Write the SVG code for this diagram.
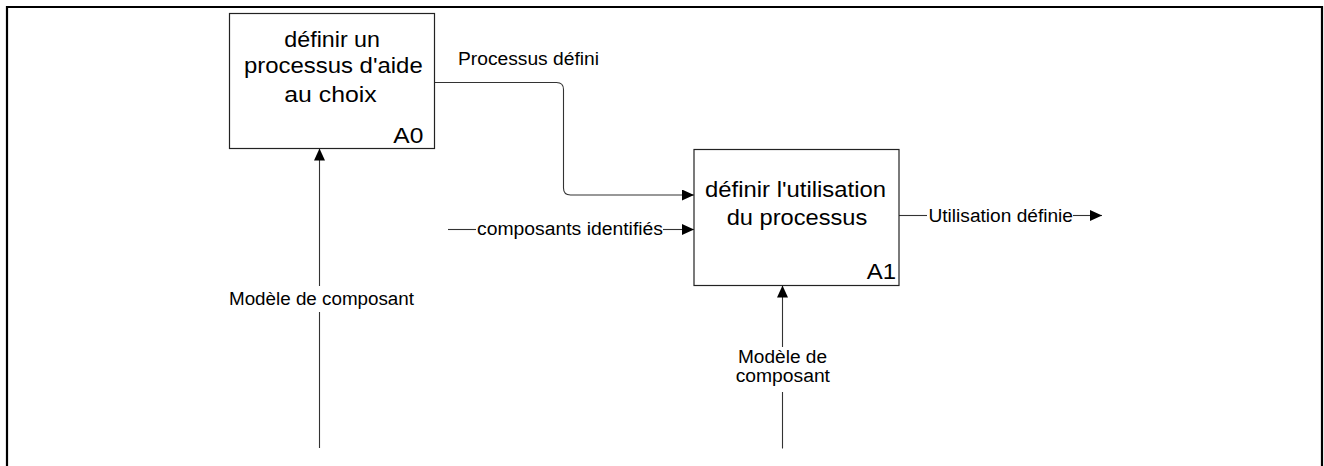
<svg xmlns="http://www.w3.org/2000/svg" width="1324" height="466" viewBox="0 0 1324 466">
<style>
.frame{fill:none;stroke:#000;stroke-width:2.2}
.box{fill:#fff;stroke:#222;stroke-width:1.2}
.conn{fill:none;stroke:#333;stroke-width:1.1}
.bt{font-family:"Liberation Sans",Arial,sans-serif;font-size:22.5px;fill:#000}
.lt{font-family:"Liberation Sans",Arial,sans-serif;font-size:18px;fill:#000}
</style>
<defs>
<marker id="arr" markerUnits="userSpaceOnUse" markerWidth="13" markerHeight="12" refX="12" refY="5.5" orient="auto">
<path d="M0,0 L12,5.5 L0,11 z" fill="#000"/>
</marker>
</defs>
<rect width="1324" height="466" fill="#fff"/>
<path class="frame" d="M7,466 V7 H1322 V466"/>
<g id="connectors">
<path class="conn" d="M434.5,82.5 H556.5 Q563.5,82.5 563.5,89.5 V188 Q563.5,195 570.5,195 H694" marker-end="url(#arr)"/>
<text class="lt" x="458" y="64.5" textLength="141" lengthAdjust="spacingAndGlyphs">Processus défini</text>
<path class="conn" d="M448,229.5 H476"/>
<path class="conn" d="M663,229.5 H694" marker-end="url(#arr)"/>
<text class="lt" x="477" y="235" textLength="186" lengthAdjust="spacingAndGlyphs">composants identifiés</text>
<path class="conn" d="M899,215.5 H927"/>
<path class="conn" d="M1073,215.5 H1102" marker-end="url(#arr)"/>
<text class="lt" x="928.5" y="221.5" textLength="144.5" lengthAdjust="spacingAndGlyphs">Utilisation définie</text>
<path class="conn" d="M319.5,448 V312"/>
<path class="conn" d="M319.5,286 V148.5" marker-end="url(#arr)"/>
<text class="lt" x="229" y="305" textLength="185" lengthAdjust="spacingAndGlyphs">Modèle de composant</text>
<path class="conn" d="M782.5,448.5 V392"/>
<path class="conn" d="M782.5,347 V285.5" marker-end="url(#arr)"/>
<text class="lt" x="738" y="363.3" textLength="89" lengthAdjust="spacingAndGlyphs">Modèle de</text>
<text class="lt" x="735.7" y="381.7" textLength="94.3" lengthAdjust="spacingAndGlyphs">composant</text>
</g>
<g id="A0">
<rect class="box" x="229.5" y="13.5" width="205" height="135"/>
<text class="bt" x="284.3" y="46.7" textLength="95.7" lengthAdjust="spacingAndGlyphs">définir un</text>
<text class="bt" x="244" y="73.3" textLength="178.7" lengthAdjust="spacingAndGlyphs">processus d'aide</text>
<text class="bt" x="284.3" y="101.7" textLength="92.4" lengthAdjust="spacingAndGlyphs">au choix</text>
<text class="bt" x="393.3" y="142.7" textLength="30" lengthAdjust="spacingAndGlyphs">A0</text>
</g>
<g id="A1">
<rect class="box" x="694" y="149.5" width="205" height="136"/>
<text class="bt" x="705" y="197.3" textLength="181" lengthAdjust="spacingAndGlyphs">définir l'utilisation</text>
<text class="bt" x="726.7" y="225" textLength="140.6" lengthAdjust="spacingAndGlyphs">du processus</text>
<text class="bt" x="866.7" y="279.3" textLength="29.3" lengthAdjust="spacingAndGlyphs">A1</text>
</g>
</svg>
